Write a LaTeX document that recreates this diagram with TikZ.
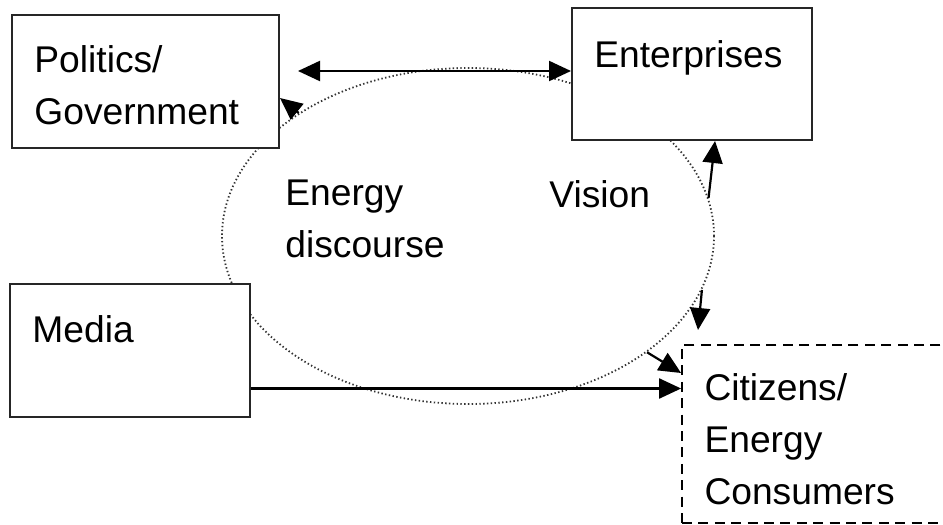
\documentclass[tikz,border=0pt]{standalone}
\usepackage{fontspec}
\setmainfont{Liberation Sans}
\usetikzlibrary{arrows.meta,shapes.geometric}

\begin{document}
\begin{tikzpicture}[x=0.5pt, y=-0.5pt,
        block/.style = {draw=black!85, fill=white, line width=1pt, inner sep=0pt},
        citbox/.style = {draw=black, line width=0.9pt, inner sep=0pt, dash pattern=on 5pt off 3.2pt},
        disc/.style = {draw=black!80, ellipse, line width=0.9pt, dash pattern=on 0.7pt off 1.2pt, inner sep=0pt},
        word/.style = {inner sep=0pt, align=left, font=\fontsize{18.6}{26}\selectfont},
        link/.style = {-{Triangle[length=11pt,width=10pt]}, line width=1.1pt}]
    \useasboundingbox (0,0) rectangle (943,525);
    % the discourse ellipse
    \node[disc, minimum width=246pt, minimum height=168pt] (ell) at (468,236) {};
    % actors
    \node[block, minimum width=133.5pt, minimum height=66.5pt] (pol) at (145.5,81.5) {};
    \node[block, minimum width=120pt, minimum height=66pt] (ent) at (692,74) {};
    \node[block, minimum width=120pt, minimum height=66.5pt] (med) at (130,350.5) {};
    \node[citbox, minimum width=139pt, minimum height=89pt] (cit) at (821,434) {};
    % labels
    \node[word, anchor=north west] (poltext) at ([xshift=11.5pt,yshift=-15.5pt]pol.north west) {Politics/\\Government};
    \node[word, anchor=north west] (enttext) at ([xshift=11.5pt,yshift=-16.5pt]ent.north west) {Enterprises};
    \node[word, anchor=north west] (medtext) at ([xshift=11.5pt,yshift=-16pt]med.north west) {Media};
    \node[word, anchor=north west] (cittext) at ([xshift=11.5pt,yshift=-14.5pt]cit.north west) {Citizens/\\Energy\\Consumers};
    \node[word, anchor=north west] (energy) at (285,180) {Energy\\discourse};
    \node[word, anchor=north west] (vision) at (549,180) {Vision};
    % connectors
    \coordinate (dtip) at (298,71);
    \coordinate (dn) at (698,330);
    \draw[link, {Triangle[length=11pt,width=10pt]}-{Triangle[length=11pt,width=10pt]}] (dtip) -- (dtip -| ent.west);
    \draw[link] (ell.144) -- (pol.-7);
    \draw[link] (ell.9) -- (ent.-71);
    \draw[link] (ell.-13) -- (dn);
    \draw[link] (ell.-33) -- ([yshift=30.5pt]cit.west);
    \draw[link] ([yshift=-19pt]med.east) -- ([yshift=-19pt]med.east -| cit.west);
\end{tikzpicture}
\end{document}
